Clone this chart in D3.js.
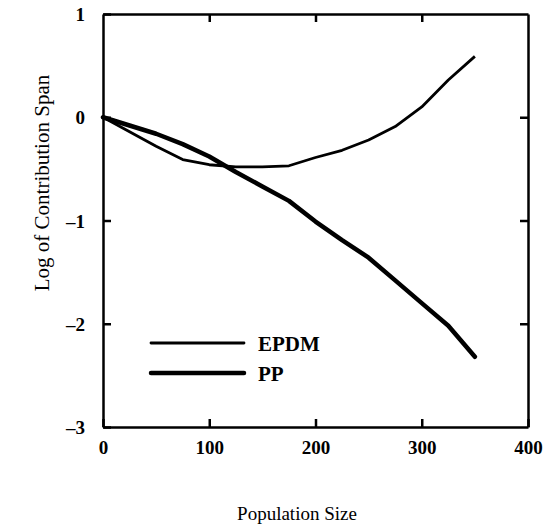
<!DOCTYPE html>
<html>
<head>
  <meta charset="utf-8">
  <style type="text/css">
    body { margin: 0; background: #fff; }
    .tick text { font-family: "Liberation Serif", serif; font-weight: bold; font-size: 19px; }
    .axis-title { font-family: "Liberation Serif", serif; }
  </style>
</head>
<body>
  <div id="viz"></div>
  <script src="https://cdnjs.cloudflare.com/ajax/libs/d3/7.8.5/d3.min.js"></script>
  <script>
  // population sizes
  const popSize = [0, 25, 50, 75, 100, 125, 150, 175, 200, 225, 250, 275, 300, 325, 350];
  const epdm = [0, -0.14, -0.28, -0.41, -0.46, -0.48, -0.48, -0.47, -0.39, -0.32, -0.22, -0.09, 0.10, 0.36, 0.59];
  const pp = [0, -0.08, -0.16, -0.26, -0.38, -0.53, -0.67, -0.81, -1.01, -1.19, -1.36, -1.58, -1.80, -2.02, -2.32];
  const xTicks = [0, 100, 200, 300, 400];
  const yTicks = [-3, -2, -1, 0, 1];
  const seriesNames = ['EPDM', 'PP'];

  const margin = { top: 14, right: 22, bottom: 99, left: 103 },
    width = 550 - margin.left - margin.right,
    height = 526 - margin.top - margin.bottom;

  const svg = d3.select('#viz').append('svg')
    .attr('width', 550)
    .attr('height', 526);

  const g = svg.append('g')
    .attr('transform', 'translate(' + margin.left + ',' + margin.top + ')');

  const x = d3.scaleLinear().domain([0, 400]).range([0, width]);
  const y = d3.scaleLinear().domain([-3, 1]).range([height, 0]);

  const fmt = d => (d < 0 ? '\u2013' + Math.abs(d) : d);

  // bottom axis, ticks point inward
  const xAxis = g.append('g')
    .attr('transform', 'translate(0,' + height + ')')
    .call(d3.axisBottom(x).tickValues(xTicks).tickSizeInner(-8).tickSizeOuter(0).tickPadding(14).tickFormat(fmt));

  const yAxis = g.append('g')
    .call(d3.axisLeft(y).tickValues(yTicks).tickSizeInner(-8).tickSizeOuter(0).tickPadding(18).tickFormat(fmt));

  // top and right: ticks only
  const topAxis = g.append('g')
    .call(d3.axisTop(x).tickValues([100, 200, 300]).tickSizeInner(-8).tickSizeOuter(0).tickFormat(''));
  const rightAxis = g.append('g')
    .attr('transform', 'translate(' + width + ',0)')
    .call(d3.axisRight(y).tickValues([-2, -1, 0]).tickSizeInner(-8).tickSizeOuter(0).tickFormat(''));

  [xAxis, yAxis, topAxis, rightAxis].forEach(a => {
    a.select('.domain').attr('stroke', '#000').attr('stroke-width', 2.5);
    a.selectAll('.tick line').attr('stroke', '#000').attr('stroke-width', 2.5);
    a.selectAll('.tick text').attr('fill', '#000');
  });
  yAxis.selectAll('.tick text').attr('dy', '0.35em');

  const line = d3.line()
    .x((d, i) => x(popSize[i]))
    .y(d => y(d));

  g.append('path')
    .datum(epdm)
    .attr('fill', 'none')
    .attr('stroke', '#000')
    .attr('stroke-width', 2.8)
    .attr('stroke-linejoin', 'round')
    .attr('d', line);

  g.append('path')
    .datum(pp)
    .attr('fill', 'none')
    .attr('stroke', '#000')
    .attr('stroke-width', 4.5)
    .attr('stroke-linejoin', 'round')
    .attr('stroke-linecap', 'round')
    .attr('d', line);

  // legend
  const legend = g.append('g').attr('transform', 'translate(48,' + (343 - margin.top) + ')');
  seriesNames.forEach((name, i) => {
    const row = legend.append('g').attr('transform', 'translate(0,' + (i * 30) + ')');
    row.append('line')
      .attr('x1', 0).attr('x2', 93)
      .attr('stroke', '#000')
      .attr('stroke-width', i === 0 ? 2.8 : 4.5)
      .attr('stroke-linecap', 'round');
    row.append('text')
      .attr('x', 107).attr('y', 8)
      .attr('font-family', '"Liberation Serif", serif')
      .attr('font-weight', 'bold')
      .attr('font-size', 21)
      .text(name);
  });

  // axis titles
  svg.append('text')
    .attr('class', 'axis-title')
    .attr('font-size', 19)
    .attr('x', 297).attr('y', 520)
    .attr('text-anchor', 'middle')
    .text('Population Size');

  svg.append('text')
    .attr('class', 'axis-title')
    .attr('font-size', 21)
    .attr('transform', 'translate(49,183) rotate(-90)')
    .attr('text-anchor', 'middle')
    .text('Log of Contribution Span');
  </script>
</body>
</html>
